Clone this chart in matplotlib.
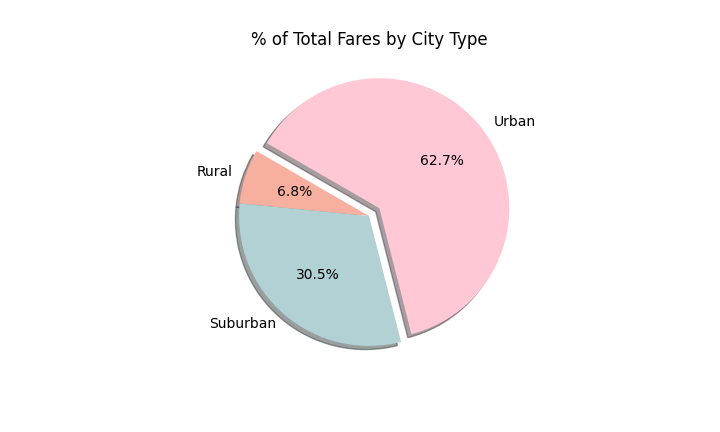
import matplotlib
matplotlib.use("Agg")
import matplotlib.pyplot as plt

# fare share by city type
city_types = ["Rural", "Suburban", "Urban"]
fare_pct = [6.8, 30.5, 62.7]
colors = ["#F7B09F", "#B2D1D5", "#FFC8D4"]
explode = [0, 0, 0.1]

plt.figure(figsize=(7.2, 4.32), dpi=100)
plt.subplots_adjust(bottom=0.124, top=0.876)
plt.pie(fare_pct, labels=city_types, colors=colors, explode=explode,
        autopct="%1.1f%%", shadow=True, startangle=150)
plt.title("% of Total Fares by City Type")
plt.savefig("out.png", dpi=100)
